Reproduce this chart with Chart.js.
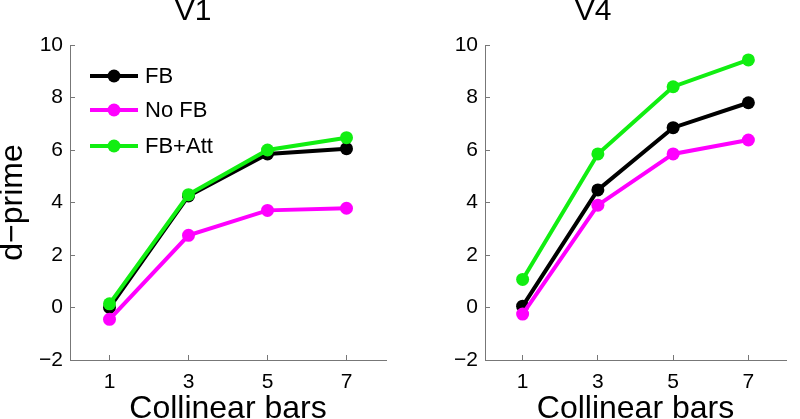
<!DOCTYPE html>
<html lang="en">
<head>
<meta charset="UTF-8">
<title>d-prime vs collinear bars</title>
<script src="https://cdn.jsdelivr.net/npm/chart.js@4.4.0/dist/chart.umd.min.js"></script>
<style>
  html, body { margin: 0; padding: 0; background: #fff; overflow: hidden; }
  .panel { position: absolute; top: 0; height: 419px; width: 400px; }
  #p1 { left: 0; }
  #p2 { left: 400px; }
</style>
</head>
<body>
<div class="panel" id="p1"><canvas id="v1"></canvas></div>
<div class="panel" id="p2"><canvas id="v4"></canvas></div>
<script>
const bars = [1, 3, 5, 7];
const yTicks = [-2, 0, 2, 4, 6, 8, 10];

const v1FB    = [0.0, 4.25, 5.85, 6.05];
const v1NoFB  = [-0.45, 2.75, 3.7, 3.78];
const v1Att   = [0.14, 4.3, 6.0, 6.47];

const v4FB    = [0.05, 4.48, 6.85, 7.8];
const v4NoFB  = [-0.25, 3.9, 5.85, 6.38];
const v4Att   = [1.07, 5.85, 8.41, 9.43];

const names  = ['FB', 'No FB', 'FB+Att'];
const colors = ['#000000', '#ff00ff', '#11ee11'];
const drawOrder = [2, 1, 0]; // green on top, black at the bottom

const FONT = 'Liberation Sans, Arial, Helvetica, sans-serif';
const AXIS = '#777';

function series(vals, i) {
  return {
    label: names[i],
    data: vals.map((v, k) => ({ x: bars[k], y: v })),
    order: drawOrder[i],
    borderColor: colors[i],
    backgroundColor: colors[i],
    borderWidth: 4,
    pointRadius: 6.5,
    pointHoverRadius: 6.5,
    pointBorderWidth: 0,
    tension: 0
  };
}

// legend drawn inside the plot, MATLAB style
const insideLegend = {
  id: 'insideLegend',
  afterDatasetsDraw(chart) {
    const ctx = chart.ctx;
    const x0 = chart.chartArea.left + 20, x1 = x0 + 48;
    const ys = [76, 110, 146];
    ctx.save();
    chart.data.datasets.forEach((ds, i) => {
      ctx.strokeStyle = ds.borderColor;
      ctx.lineWidth = 4;
      ctx.beginPath();
      ctx.moveTo(x0, ys[i]);
      ctx.lineTo(x1, ys[i]);
      ctx.stroke();
      ctx.fillStyle = ds.borderColor;
      ctx.beginPath();
      ctx.arc((x0 + x1) / 2, ys[i], 6.5, 0, Math.PI * 2);
      ctx.fill();
      ctx.fillStyle = '#000';
      ctx.font = '22px ' + FONT;
      ctx.textBaseline = 'middle';
      ctx.fillText(ds.label, x1 + 7, ys[i] + 1);
    });
    ctx.restore();
  }
};

function makeChart(id, title, sets, yWidth, showYTitle, legend) {
  return new Chart(document.getElementById(id), {
    type: 'line',
    data: { datasets: sets },
    plugins: legend ? [insideLegend] : [],
    options: {
      responsive: true,
      maintainAspectRatio: false,
      animation: false,
      layout: { padding: { left: 0, right: 14, top: 0, bottom: 0 } },
      plugins: {
        legend: { display: false },
        tooltip: { enabled: false },
        title: {
          display: true,
          text: title,
          color: '#000',
          font: { family: FONT, size: 30, weight: 'normal', lineHeight: 1.0 },
          padding: { top: -3, bottom: 18 }
        }
      },
      scales: {
        x: {
          type: 'linear',
          min: 0,
          max: 8,
          afterBuildTicks: s => { s.ticks = bars.map(v => ({ value: v })); },
          afterFit: s => { s.height = 59; },
          border: { display: true, color: AXIS, width: 1 },
          grid: { drawOnChartArea: false, tickLength: -5, color: AXIS },
          ticks: {
            padding: 15,
            color: '#000',
            font: { family: FONT, size: 21 },
            maxRotation: 0
          },
          title: {
            display: true,
            text: 'Collinear bars',
            color: '#000',
            font: { family: FONT, size: 32, lineHeight: 0.6 },
            padding: 0
          }
        },
        y: {
          min: -2,
          max: 10,
          afterBuildTicks: s => { s.ticks = yTicks.map(v => ({ value: v })); },
          afterFit: s => { s.width = yWidth; },
          border: { display: true, color: AXIS, width: 1 },
          grid: { drawOnChartArea: false, tickLength: -5, color: AXIS },
          ticks: {
            padding: 12,
            color: '#000',
            font: { family: FONT, size: 21 },
            callback: v => String(v).replace('-', '\u2212')
          },
          title: {
            display: showYTitle,
            text: 'd\u2212prime',
            color: '#000',
            font: { family: FONT, size: 32, lineHeight: 0.8 },
            padding: 0
          }
        }
      }
    }
  });
}

makeChart('v1', 'V1', [series(v1FB, 0), series(v1NoFB, 1), series(v1Att, 2)], 70, true, true);
makeChart('v4', 'V4', [series(v4FB, 0), series(v4NoFB, 1), series(v4Att, 2)], 85, false, false);
</script>
</body>
</html>
